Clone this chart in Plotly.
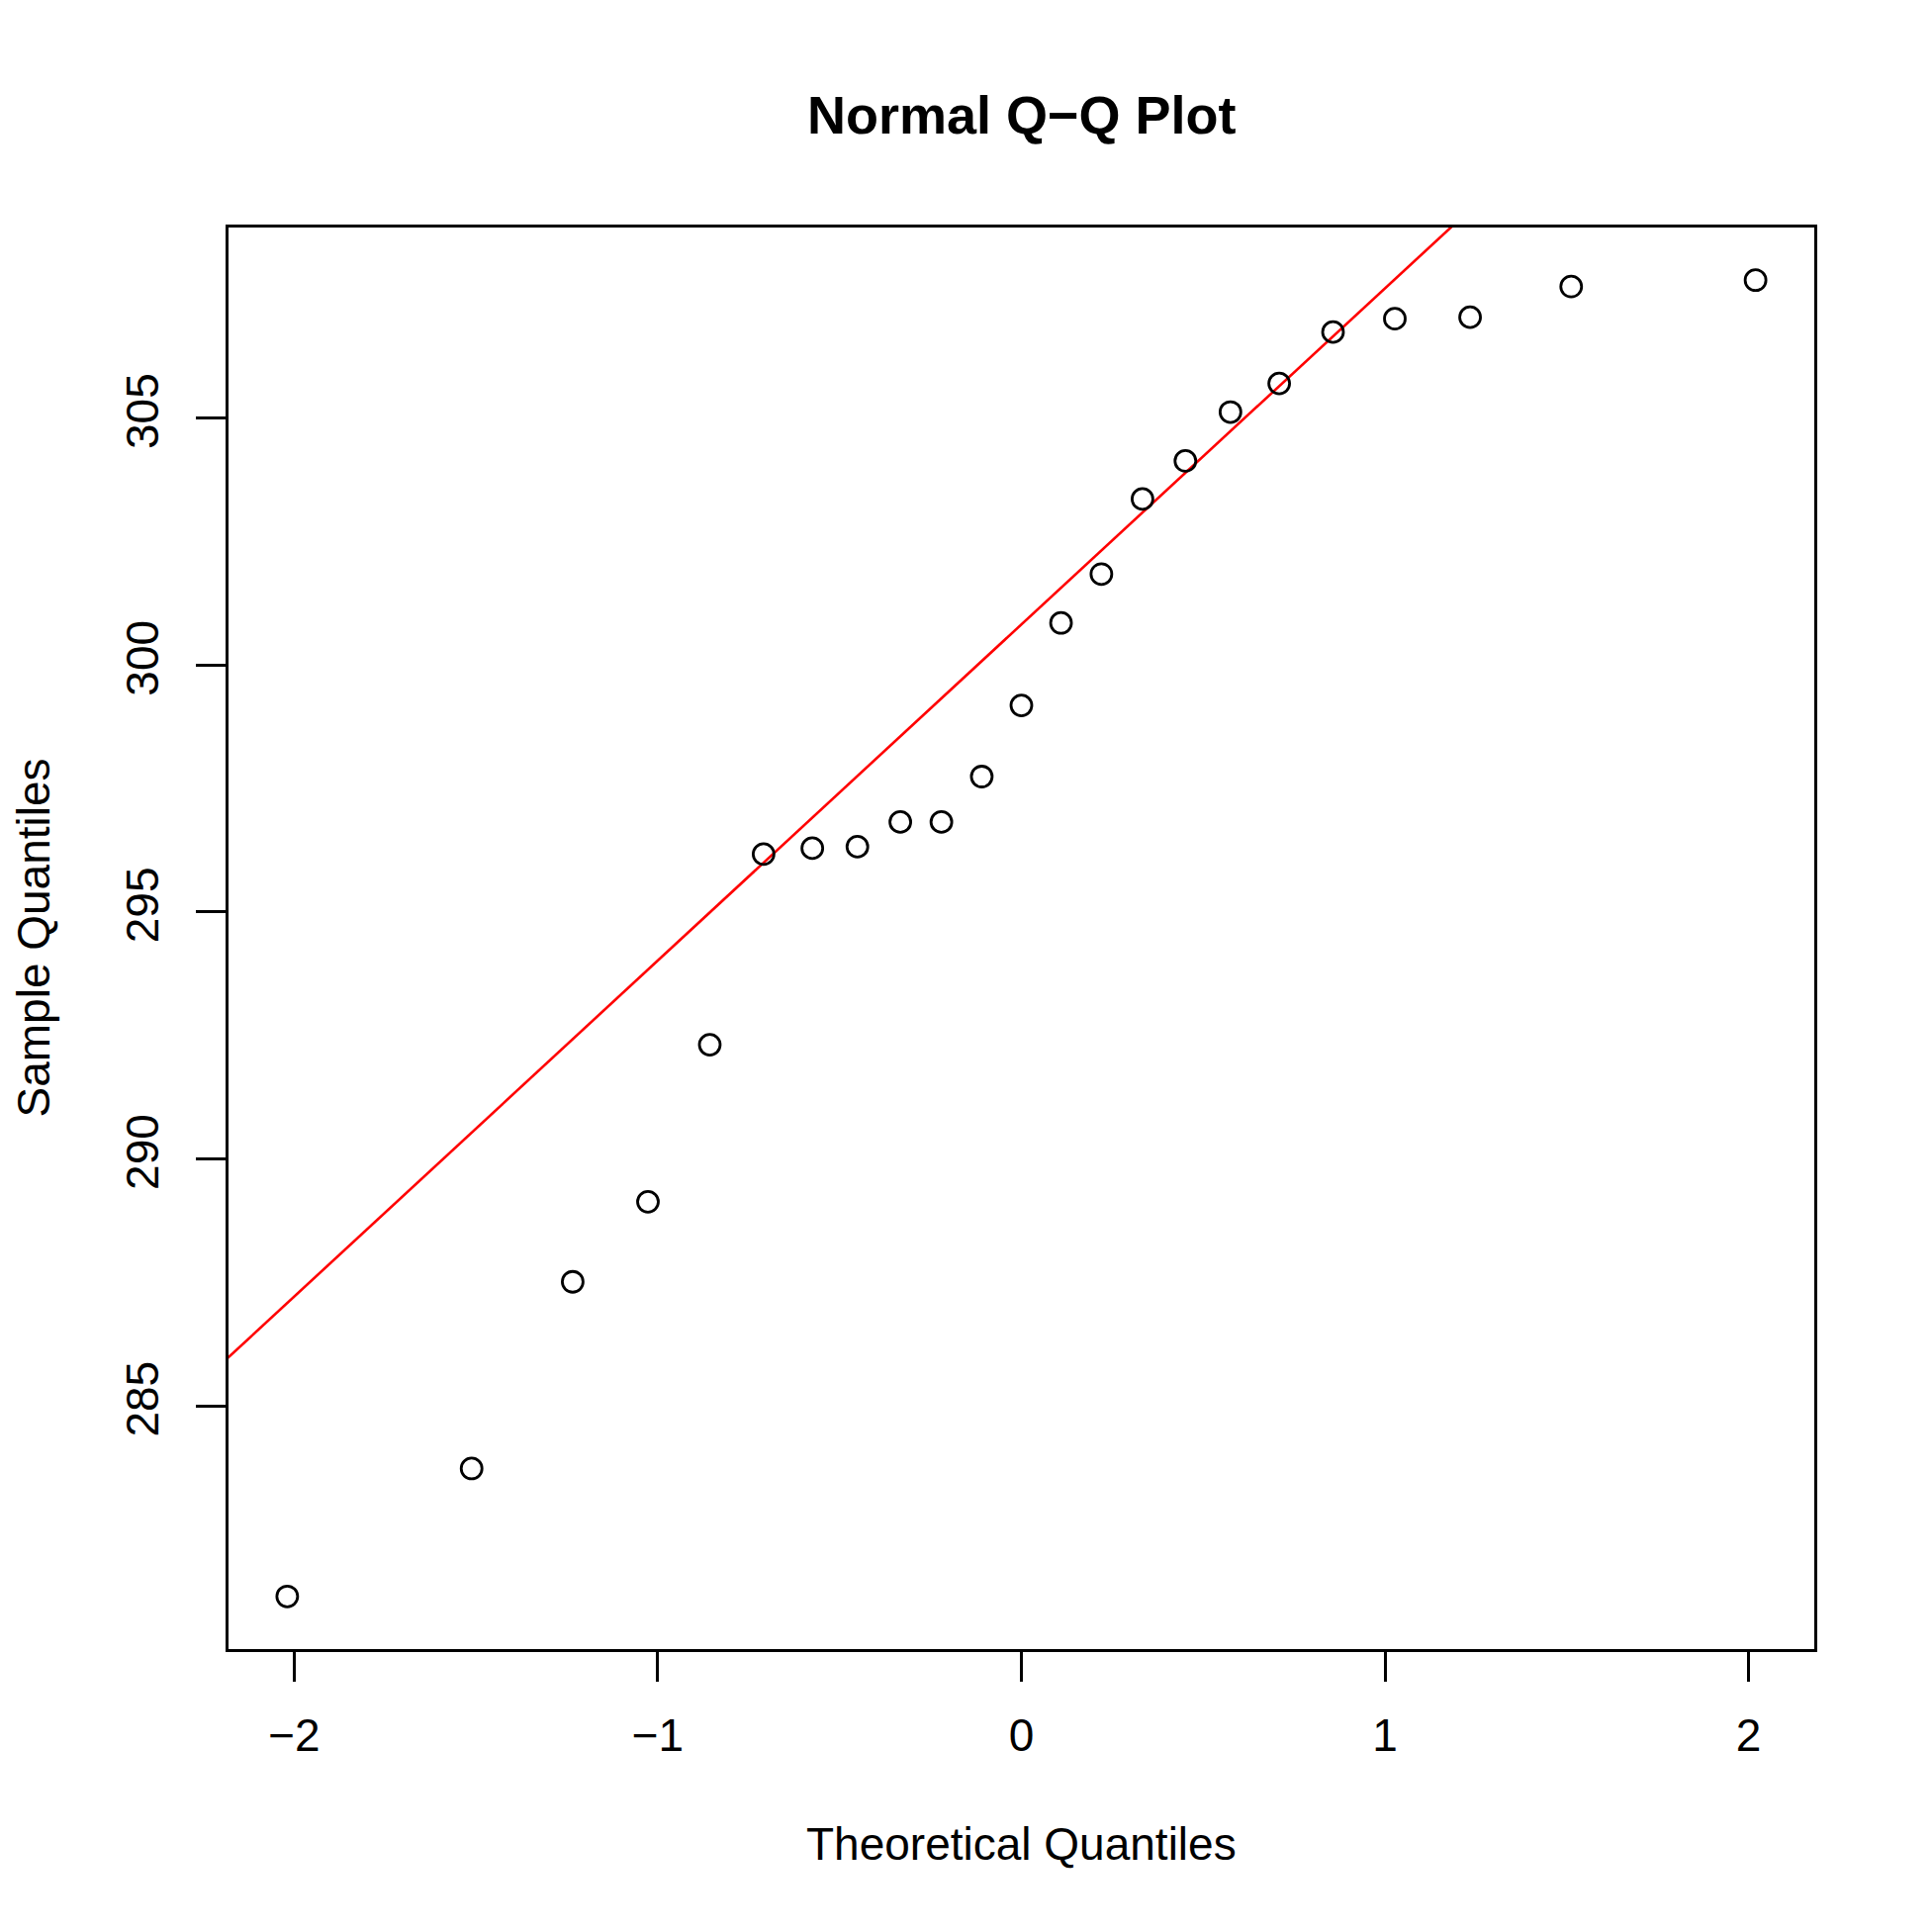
import numpy as np
import plotly.graph_objects as go

# theoretical normal quantiles for n = 23 (as placed on the x axis)
theoretical = [-2.019, -1.512, -1.234, -1.027, -0.857, -0.709, -0.575, -0.451,
               -0.333, -0.220, -0.109, 0.0, 0.109, 0.220, 0.333, 0.451,
               0.575, 0.709, 0.857, 1.027, 1.234, 1.512, 2.019]

# sorted sample values
sample = [281.14, 283.73, 287.51, 289.13, 292.31, 296.17, 296.29, 296.32,
          296.82, 296.82, 297.74, 299.18, 300.85, 301.84, 303.36, 304.13,
          305.12, 305.70, 306.74, 307.01, 307.04, 307.66, 307.79]

x_ticks = [-2, -1, 0, 1, 2]
y_ticks = [285, 290, 295, 300, 305]

# qqline: line through the first and third quartiles
q_y = np.percentile(sample, [25, 75])
q_x = np.array([-0.6745, 0.6745])
slope = (q_y[1] - q_y[0]) / (q_x[1] - q_x[0])
intercept = q_y[0] - slope * q_x[0]

# axis ranges with R's 4% padding
xr = [min(theoretical), max(theoretical)]
yr = [min(sample), max(sample)]
xpad = (xr[1] - xr[0]) * 0.04
ypad = (yr[1] - yr[0]) * 0.04
x_range = [xr[0] - xpad, xr[1] + xpad]
y_range = [yr[0] - ypad, yr[1] + ypad]

line_x = [x_range[0] - 1, x_range[1] + 1]
line_y = [intercept + slope * v for v in line_x]

font = "Liberation Sans, Arial, Helvetica, sans-serif"

fig = go.Figure()
fig.add_trace(go.Scatter(
    x=line_x, y=line_y, mode="lines",
    line=dict(color="#ff0000", width=2.6),
    hoverinfo="skip",
))
fig.add_trace(go.Scatter(
    x=theoretical, y=sample, mode="markers",
    marker=dict(symbol="circle-open", size=21, color="black",
                line=dict(color="black", width=2.8)),
))

axis_common = dict(
    showgrid=False, zeroline=False,
    showline=True, linecolor="black", linewidth=2.8, mirror=True,
    ticks="outside", ticklen=30, tickwidth=2.8, tickcolor="black",
    tickfont=dict(family=font, size=46, color="black"),
)

fig.update_layout(
    width=1953, height=1953,
    margin=dict(l=223, r=127, t=222, b=294),
    paper_bgcolor="white", plot_bgcolor="white",
    showlegend=False,
    xaxis=dict(range=x_range, tickvals=x_ticks, ticklabelstandoff=15,
               **axis_common),
    yaxis=dict(range=y_range, tickvals=y_ticks, tickangle=-90,
               ticklabelstandoff=20, **axis_common),
    annotations=[
        dict(text="<b>Normal Q\u2212Q Plot</b>", xref="paper", yref="paper",
             x=0.5, y=1, yshift=146, showarrow=False,
             font=dict(family=font, size=54, color="black")),
        dict(text="Theoretical Quantiles", xref="paper", yref="paper",
             x=0.5, y=0, yshift=-225, showarrow=False,
             font=dict(family=font, size=46, color="black")),
        dict(text="Sample Quantiles", xref="paper", yref="paper",
             x=0, y=0.5, xshift=-226, textangle=-90, showarrow=False,
             font=dict(family=font, size=46, color="black")),
    ],
)

fig.write_html("out.html")
